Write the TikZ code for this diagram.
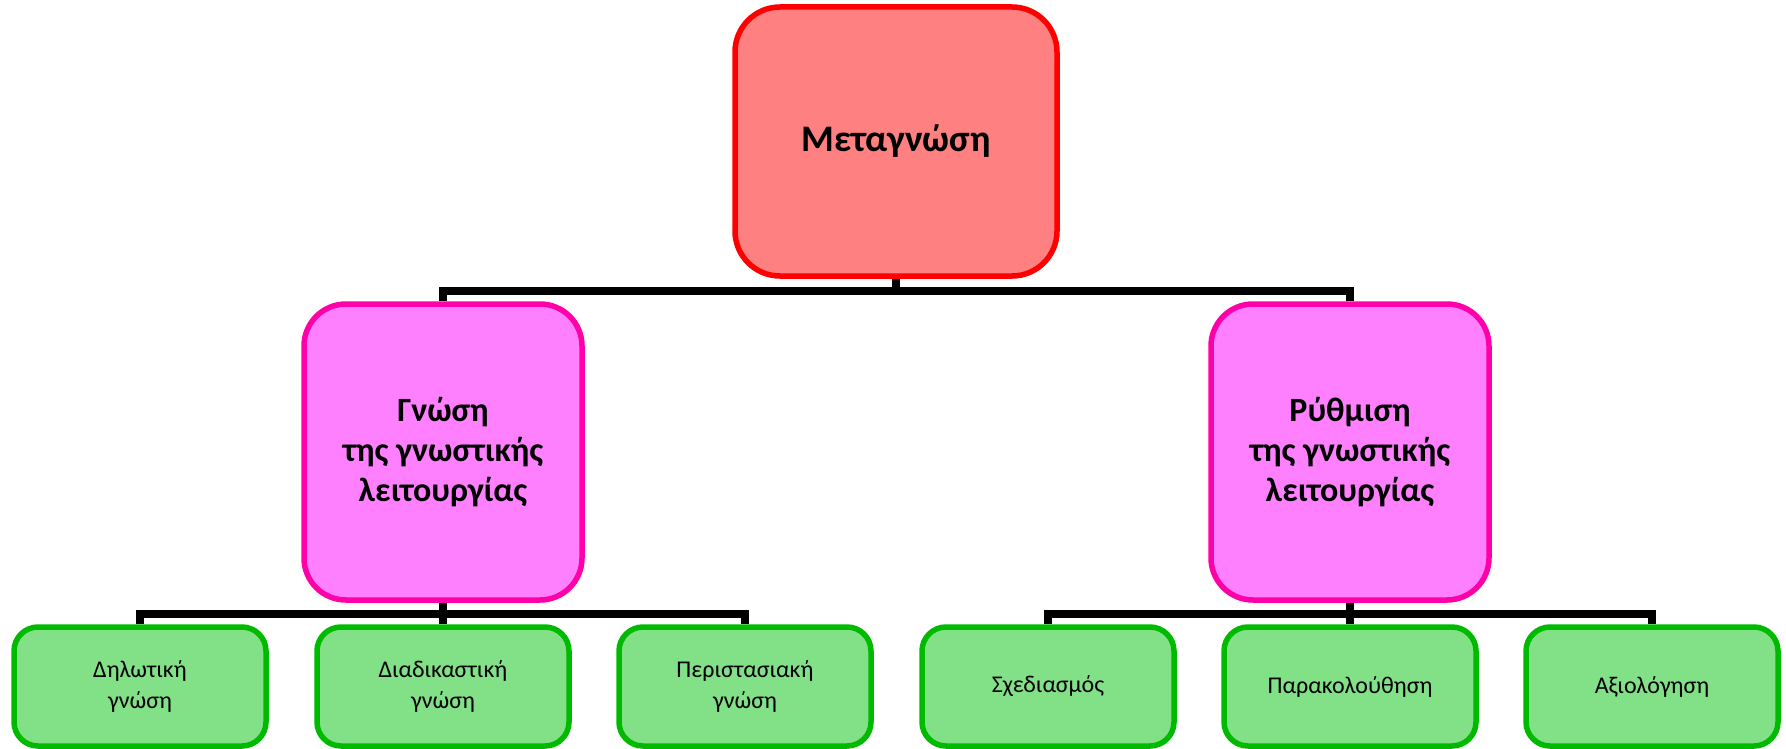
\documentclass[tikz,border=0pt]{standalone}
\usepackage{fontspec}
\setmainfont{Carlito}
\usetikzlibrary{positioning}
\definecolor{topfill}{HTML}{FF8080}
\definecolor{topline}{HTML}{FF0000}
\definecolor{midfill}{HTML}{FF80FF}
\definecolor{midline}{HTML}{FF00A8}
\definecolor{lowfill}{HTML}{82E086}
\definecolor{lowline}{HTML}{00BA00}

\begin{document}
\begin{tikzpicture}[x=1pt, y=-1pt,
  topbox/.style={draw=topline, fill=topfill, line width=5.5pt, rounded corners=45pt, minimum width=322pt, minimum height=269pt, align=center, font=\fontsize{37.5}{45}\selectfont\bfseries},
  midbox/.style={draw=midline, fill=midfill, line width=5.5pt, rounded corners=42pt, minimum width=278pt, minimum height=296pt, align=center, font=\fontsize{34}{40}\selectfont\bfseries},
  lowbox/.style={draw=lowline, fill=lowfill, line width=5.5pt, rounded corners=24pt, minimum width=252pt, minimum height=119pt, align=center, font=\fontsize{24}{31}\selectfont},
  link/.style={line width=8pt}]
\useasboundingbox (0,0) rectangle (1786,749);
\coordinate (bus1) at (0,291);
\coordinate (bus2) at (0,614);
\node [topbox] (meta) at (896,141.5) {Μεταγνώση};
\node [midbox] (gnosi) at (443,452) {Γνώση\\της γνωστικής\\λειτουργίας};
\node [midbox] (rythm) at (1350,452) {Ρύθμιση\\της γνωστικής\\λειτουργίας};
\node [lowbox] (dil) at (140,686.5) {Δηλωτική\\γνώση};
\node [lowbox] (diad) at (443,686.5) {Διαδικαστική\\γνώση};
\node [lowbox] (per) at (745,686.5) {Περιστασιακή\\γνώση};
\node [lowbox] (sxed) at (1048,686.5) {Σχεδιασμός};
\node [lowbox] (parak) at (1350,686.5) {Παρακολούθηση};
\node [lowbox] (axiol) at (1652,686.5) {Αξιολόγηση};
\foreach \n in {gnosi,rythm}
  \draw [link] (meta.south) -- (meta.south |- bus1) -| (\n.north);
\foreach \n in {dil,diad,per}
  \draw [link] (gnosi.south) -- (gnosi.south |- bus2) -| (\n.north);
\foreach \n in {sxed,parak,axiol}
  \draw [link] (rythm.south) -- (rythm.south |- bus2) -| (\n.north);
\end{tikzpicture}
\end{document}
